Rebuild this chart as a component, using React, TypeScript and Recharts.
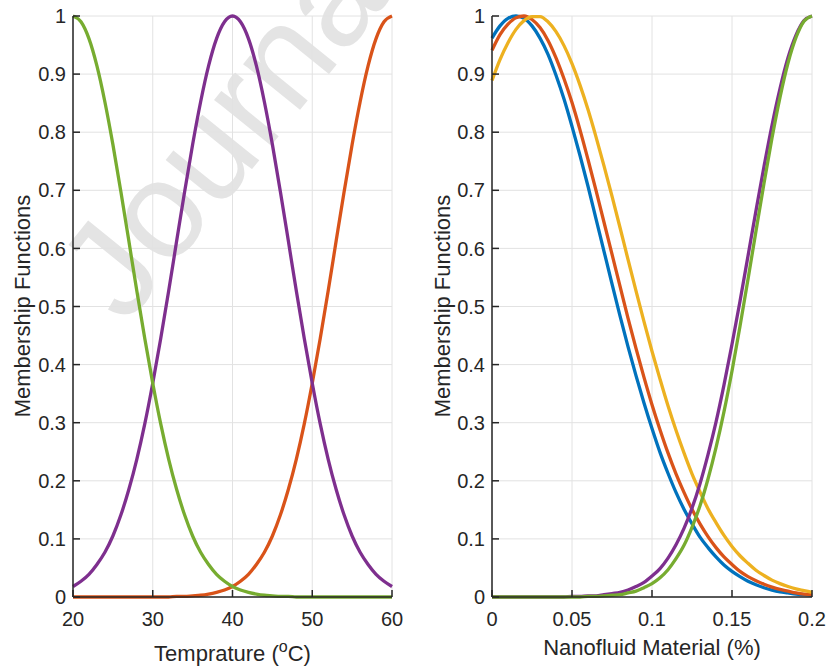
import { CartesianGrid, Line, LineChart, XAxis, YAxis } from "recharts"

const FONT = "'Liberation Sans', Arial, Helvetica, sans-serif"
const INK = "#262626"

// Temperature panel (deg C)
const tempX = [
  20, 21, 22, 23, 24, 25, 26, 27, 28, 29, 30, 31, 32, 33, 34, 35, 36, 37, 38, 39, 40,
  41, 42, 43, 44, 45, 46, 47, 48, 49, 50, 51, 52, 53, 54, 55, 56, 57, 58, 59, 60,
]
const tempLow = [
  1, 0.99, 0.961, 0.914, 0.852, 0.779, 0.698, 0.613, 0.527, 0.445, 0.368, 0.298, 0.237, 0.185, 0.141,
  0.105, 0.077, 0.056, 0.039, 0.027, 0.018, 0.012, 0.008, 0.005, 0.003, 0.002, 0.001, 0.001,
  0, 0, 0, 0, 0, 0, 0, 0, 0, 0, 0, 0, 0,
]
const tempMid = [
  0.018, 0.027, 0.039, 0.056, 0.077, 0.105, 0.141, 0.185, 0.237, 0.298, 0.368, 0.445, 0.527, 0.613,
  0.698, 0.779, 0.852, 0.914, 0.961, 0.99, 1, 0.99, 0.961, 0.914, 0.852, 0.779, 0.698, 0.613, 0.527,
  0.445, 0.368, 0.298, 0.237, 0.185, 0.141, 0.105, 0.077, 0.056, 0.039, 0.027, 0.018,
]
const tempHigh = [
  0, 0, 0, 0, 0, 0, 0, 0, 0, 0, 0, 0, 0, 0.001, 0.001, 0.002, 0.003, 0.005, 0.008, 0.012, 0.018,
  0.027, 0.039, 0.056, 0.077, 0.105, 0.141, 0.185, 0.237, 0.298, 0.368, 0.445, 0.527, 0.613, 0.698,
  0.779, 0.852, 0.914, 0.961, 0.99, 1,
]
const tempTicks = [20, 30, 40, 50, 60]

// Nanofluid panel (%)
const nanoX = [
  0, 0.005, 0.01, 0.015, 0.02, 0.025, 0.03, 0.035, 0.04, 0.045, 0.05, 0.055, 0.06, 0.065, 0.07,
  0.075, 0.08, 0.085, 0.09, 0.095, 0.1, 0.105, 0.11, 0.115, 0.12, 0.125, 0.13, 0.135, 0.14, 0.145,
  0.15, 0.155, 0.16, 0.165, 0.17, 0.175, 0.18, 0.185, 0.19, 0.195, 0.2,
]
const nanoBlue = [
  0.962, 0.983, 0.996, 1, 0.996, 0.983, 0.962, 0.934, 0.898, 0.857, 0.81, 0.76, 0.707, 0.651, 0.595,
  0.539, 0.484, 0.431, 0.381, 0.334, 0.29, 0.249, 0.213, 0.18, 0.151, 0.126, 0.103, 0.085, 0.069,
  0.055, 0.044, 0.035, 0.027, 0.021, 0.016, 0.012, 0.009, 0.007, 0.005, 0.004, 0.003,
]
const nanoOrange = [
  0.941, 0.968, 0.986, 0.997, 1, 0.994, 0.98, 0.958, 0.928, 0.892, 0.851, 0.804, 0.753, 0.7, 0.645,
  0.59, 0.535, 0.48, 0.428, 0.378, 0.331, 0.288, 0.248, 0.212, 0.18, 0.151, 0.126, 0.104, 0.085,
  0.069, 0.056, 0.044, 0.035, 0.028, 0.022, 0.017, 0.013, 0.01, 0.007, 0.005, 0.004,
]
const nanoYellow = [
  0.889, 0.925, 0.954, 0.977, 0.992, 0.999, 0.999, 0.99, 0.973, 0.949, 0.918, 0.881, 0.839, 0.792,
  0.742, 0.69, 0.636, 0.581, 0.527, 0.474, 0.423, 0.375, 0.329, 0.287, 0.248, 0.212, 0.181, 0.152,
  0.128, 0.106, 0.087, 0.071, 0.058, 0.046, 0.037, 0.029, 0.023, 0.018, 0.014, 0.011, 0.008,
]
const nanoPurple = [
  0, 0, 0, 0, 0, 0, 0, 0, 0, 0, 0.001, 0.001, 0.002, 0.002, 0.004, 0.006, 0.008, 0.012, 0.018,
  0.025, 0.036, 0.049, 0.067, 0.09, 0.118, 0.153, 0.195, 0.245, 0.301, 0.365, 0.435, 0.509, 0.587,
  0.665, 0.741, 0.812, 0.875, 0.928, 0.967, 0.992, 1,
]
const nanoGreen = [
  0, 0, 0, 0, 0, 0, 0, 0, 0, 0, 0, 0, 0.001, 0.001, 0.002, 0.003, 0.004, 0.007, 0.01, 0.016, 0.023,
  0.033, 0.047, 0.066, 0.089, 0.12, 0.157, 0.203, 0.257, 0.319, 0.389, 0.466, 0.547, 0.63, 0.712,
  0.79, 0.86, 0.919, 0.963, 0.991, 1,
]
const nanoTicks = [0, 0.05, 0.1, 0.15, 0.2]

const yTicks = [0, 0.1, 0.2, 0.3, 0.4, 0.5, 0.6, 0.7, 0.8, 0.9, 1]

const tempData = tempX.map((x, i) => ({ x, low: tempLow[i], mid: tempMid[i], high: tempHigh[i] }))
const nanoData = nanoX.map((x, i) => ({
  x,
  blue: nanoBlue[i],
  orange: nanoOrange[i],
  yellow: nanoYellow[i],
  purple: nanoPurple[i],
  green: nanoGreen[i],
}))

const tempSeries = [
  { key: "high", color: "#D95319" },
  { key: "mid", color: "#7E2F8E" },
  { key: "low", color: "#77AC30" },
]
const nanoSeries = [
  { key: "blue", color: "#0072BD" },
  { key: "orange", color: "#D95319" },
  { key: "yellow", color: "#EDB120" },
  { key: "purple", color: "#7E2F8E" },
  { key: "green", color: "#77AC30" },
]

const axisLine = { stroke: INK, strokeWidth: 1.5 }
const tickLine = { stroke: INK, strokeWidth: 1.5 }
const tickText = { fill: INK, fontSize: 20, fontFamily: FONT }

function Panel({
  data,
  series,
  ticks,
  domain,
  width,
  margin,
}: {
  data: any[]
  series: { key: string; color: string }[]
  ticks: number[]
  domain: [number, number]
  width: number
  margin: { top: number; right: number; bottom: number; left: number }
}) {
  return (
    <LineChart width={width} height={671} data={data} margin={margin}>
      <CartesianGrid stroke="#e2e2e2" strokeWidth={1} />
      <XAxis
        dataKey="x"
        type="number"
        domain={domain}
        ticks={ticks}
        interval={0}
        height={40}
        tickSize={-7}
        tickMargin={22}
        axisLine={axisLine}
        tickLine={tickLine}
        tick={tickText}
        tickFormatter={(v) => String(v)}
      />
      <XAxis
        xAxisId="top"
        orientation="top"
        dataKey="x"
        type="number"
        domain={domain}
        ticks={ticks}
        interval={0}
        height={0}
        tickSize={-7}
        axisLine={axisLine}
        tickLine={tickLine}
        tick={false}
      />
      <YAxis
        type="number"
        domain={[0, 1]}
        ticks={yTicks}
        interval={0}
        width={60}
        tickSize={-7}
        tickMargin={14}
        axisLine={axisLine}
        tickLine={tickLine}
        tick={tickText}
        tickFormatter={(v) => String(v)}
      />
      <YAxis
        yAxisId="right"
        orientation="right"
        type="number"
        domain={[0, 1]}
        ticks={yTicks}
        interval={0}
        width={0}
        tickSize={-7}
        axisLine={axisLine}
        tickLine={tickLine}
        tick={false}
      />
      {series.map((s) => (
        <Line
          key={s.key}
          type="monotone"
          dataKey={s.key}
          stroke={s.color}
          strokeWidth={3.3}
          dot={false}
          activeDot={false}
          isAnimationActive={false}
        />
      ))}
    </LineChart>
  )
}

export default function App() {
  return (
    <div style={{ position: "absolute", left: 0, top: 0, width: 827, height: 671, background: "#fff", overflow: "hidden" }}>
      <svg width={827} height={671} style={{ position: "absolute", left: 0, top: 0 }}>
        <text
          x={125}
          y={326}
          transform="rotate(-51 125 326)"
          fontFamily={FONT}
          fontSize={138}
          fill="#e4e4e4"
        >
          Journal Pre-proof
        </text>
      </svg>
      <div style={{ position: "absolute", left: 0, top: 0 }}>
        <Panel
          data={tempData}
          series={tempSeries}
          ticks={tempTicks}
          domain={[20, 60]}
          width={420}
          margin={{ top: 16, right: 28, bottom: 34, left: 13 }}
        />
      </div>
      <div style={{ position: "absolute", left: 420, top: 0 }}>
        <Panel
          data={nanoData}
          series={nanoSeries}
          ticks={nanoTicks}
          domain={[0, 0.2]}
          width={407}
          margin={{ top: 16, right: 15, bottom: 34, left: 12 }}
        />
      </div>
      <svg width={827} height={671} style={{ position: "absolute", left: 0, top: 0, pointerEvents: "none" }}>
        <g fontFamily={FONT} fontSize={22} fill={INK}>
          <text x={232.5} y={661} textAnchor="middle">
            Temprature (<tspan dy={-9} fontSize={16}>o</tspan>
            <tspan dy={9}>C)</tspan>
          </text>
          <text x={652} y={655} textAnchor="middle">
            Nanofluid Material (%)
          </text>
          <text x={30} y={306} textAnchor="middle" transform="rotate(-90 30 306)">
            Membership Functions
          </text>
          <text x={450} y={306} textAnchor="middle" transform="rotate(-90 450 306)">
            Membership Functions
          </text>
        </g>
      </svg>
    </div>
  )
}
